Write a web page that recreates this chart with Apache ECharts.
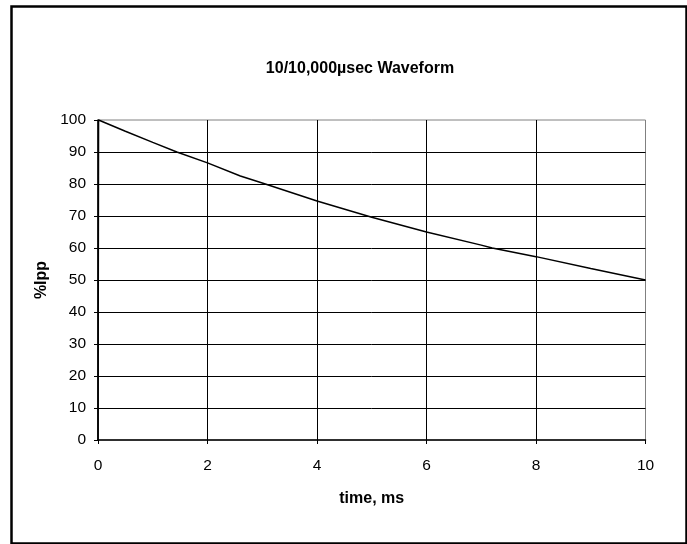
<!DOCTYPE html>
<html>
<head>
<meta charset="utf-8">
<script src="https://cdn.jsdelivr.net/npm/echarts@6/dist/echarts.min.js"></script>
<style>
html,body{margin:0;padding:0;background:#fff;}
#c{width:687px;height:544px;}
</style>
</head>
<body>
<div id="c"></div>
<script>
var titleText = '10/10,000\u00b5sec Waveform';
var xName = 'time, ms';
var yName = '%Ipp';
// time in ms
var timeMs = [0, 0.01, 0.5, 1, 1.44, 2, 2.6, 3, 4, 5, 6, 7, 7.2, 8, 9, 10];
// percent of peak current
var percentIpp = [0, 100, 96.5, 93, 90, 86.6, 82.5, 80.3, 74.7, 69.6, 65, 60.9, 60, 57.3, 53.6, 50];

var chart = echarts.init(document.getElementById('c'));
var data = timeMs.map(function (t, i) { return [t, percentIpp[i]]; });
var font = 'Liberation Sans, Arial, sans-serif';
chart.setOption({
  animation: false,
  backgroundColor: '#fff',
  title: {
    text: titleText,
    left: 355, top: 56, textAlign: 'center',
    textStyle: {fontFamily: font, fontSize: 16, fontWeight: 'bold', color: '#000'}
  },
  graphic: [{
    type: 'rect', left: 9, top: 4,
    shape: {width: 675, height: 537},
    style: {fill: 'none', stroke: '#000', lineWidth: 2.5},
    silent: true
  }],
  grid: {
    left: 98, right: 41.5, top: 120, bottom: 104,
    show: true, borderColor: '#808080', borderWidth: 1, backgroundColor: '#fff'
  },
  xAxis: {
    type: 'value', min: 0, max: 10, interval: 2,
    name: xName, nameLocation: 'middle', nameGap: 51,
    nameTextStyle: {fontFamily: font, fontSize: 16, fontWeight: 'bold', color: '#000'},
    axisLine: {show: true, lineStyle: {color: '#000', width: 1.5}},
    axisTick: {show: true, length: 4, lineStyle: {color: '#000'}},
    axisLabel: {fontFamily: font, fontSize: 15.5, color: '#000', margin: 18},
    splitLine: {show: true, showMinLine: false, showMaxLine: false, lineStyle: {color: '#000', width: 1}}
  },
  yAxis: {
    type: 'value', min: 0, max: 100, interval: 10,
    name: yName, nameLocation: 'middle', nameGap: 47, nameRotate: 90,
    nameTextStyle: {fontFamily: font, fontSize: 16, fontWeight: 'bold', color: '#000'},
    axisLine: {show: true, lineStyle: {color: '#000', width: 1.5}},
    axisTick: {show: true, length: 4, lineStyle: {color: '#000'}},
    axisLabel: {fontFamily: font, fontSize: 15.5, color: '#000', margin: 12},
    splitLine: {show: true, showMinLine: false, showMaxLine: false, lineStyle: {color: '#000', width: 1}}
  },
  series: [{
    type: 'line', data: data, showSymbol: false, smooth: false,
    lineStyle: {color: '#000', width: 1.5},
    clip: false
  }]
});
</script>
</body>
</html>
